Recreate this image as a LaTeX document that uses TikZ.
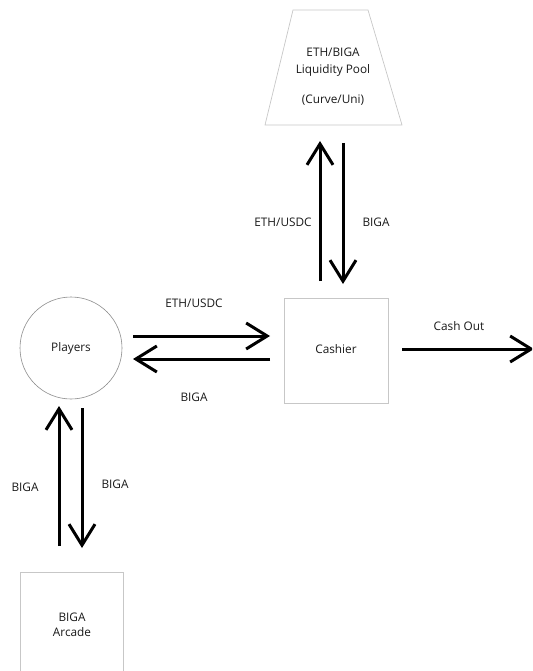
\documentclass[tikz,border=0pt]{standalone}
\usepackage{fontspec}
\setmainfont{Open Sans}
\usetikzlibrary{arrows.meta}
\begin{document}
\begin{tikzpicture}[x=1pt,y=-1pt,
  lbl/.style={font=\fontsize{11.8}{15}\selectfont, text=black!90},
  boxed/.style={draw=black!22, line width=0.7pt},
  flow/.style={line width=3pt, -{Straight Barb[length=21pt,width=26pt,line width=3pt]}}]
\useasboundingbox (0,0) rectangle (532,671);
\begin{scope}
\clip (0,0) rectangle (532,671);
% pool
\draw[boxed] (293,10) coordinate (pooltl) -- (368,10) -- (402,125) -- (265,125) -- cycle;
\node[lbl, align=center] (pool) at (333,62) {ETH/BIGA\\[2pt]Liquidity Pool};
\node[lbl] (pooluni) at (333,100) {(Curve/Uni)};
% cashier
\node[boxed, minimum width=104pt, minimum height=105pt, inner sep=0pt] (cash) at (336,350.5) {};
\node[lbl] (cashlbl) at (336,349) {Cashier};
% players
\node[draw=black!45, line width=0.6pt, circle, minimum size=102pt, inner sep=0pt] (play) at (71,348) {};
\node[lbl] (playlbl) at (71,348) {Players};
% arcade
\draw[boxed] (20,680) -- (20,572) coordinate (arctl) -- (123,572) -- (123,680);
\node[lbl, align=center] (arc) at (72,625) {BIGA\\Arcade};
% coordinates
\coordinate (a1s) at (133,336); \coordinate (a1e) at (270,336);
\coordinate (a2s) at (270,359); \coordinate (a2e) at (133,359);
\coordinate (a3s) at (402,349); \coordinate (a3e) at (534,349);
\coordinate (v1s) at (320,281); \coordinate (v1e) at (320,141);
\coordinate (v2s) at (343,143); \coordinate (v2e) at (343,284);
\coordinate (p1s) at (59,546); \coordinate (p1e) at (59,406);
\coordinate (p2s) at (82,408); \coordinate (p2e) at (82,548);
\draw[flow] (a1s) -- (a1e);
\draw[flow] (a2s) -- (a2e);
\draw[flow] (a3s) -- (a3e);
\draw[flow] (v1s) -- (v1e);
\draw[flow] (v2s) -- (v2e);
\draw[flow] (p1s) -- (p1e);
\draw[flow] (p2s) -- (p2e);
\end{scope}
\node[lbl] (l1) at (194,303) {ETH/USDC};
\node[lbl] (l2) at (194,397) {BIGA};
\node[lbl] (l3) at (459,326) {Cash Out};
\node[lbl] (l4) at (283,222) {ETH/USDC};
\node[lbl] (l5) at (376,222) {BIGA};
\node[lbl] (l6) at (25,487) {BIGA};
\node[lbl] (l7) at (115,484) {BIGA};
\end{tikzpicture}
\end{document}
